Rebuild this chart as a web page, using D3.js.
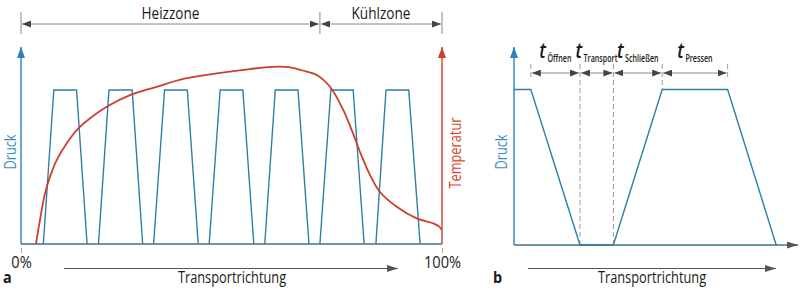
<!DOCTYPE html>
<html>
<head>
<meta charset="utf-8">
<script src="https://cdn.jsdelivr.net/npm/d3@7"></script>
<style>
  body { margin: 0; background: #fff; }
  svg text { font-family: "Open Sans", sans-serif; }
</style>
</head>
<body>
<div id="chart"></div>
<script>
// panel a: pressure pulses, x in % of the transport path, [rise start, top start, top end, fall end]
var pulsesA = [
  [5.3, 7.8, 13.2, 15.7],
  [18.4, 20.9, 26.4, 28.9],
  [31.5, 34.1, 39.5, 42.1],
  [44.7, 47.3, 52.7, 55.3],
  [57.9, 60.4, 65.8, 68.4],
  [71.0, 73.6, 78.9, 81.5],
  [84.3, 86.7, 92.1, 94.8]
];
// panel a: temperature curve [x %, temperature (relative)]
var tempA = [
  [3.56, 0], [4.51, 12.2], [5.7, 25.7], [6.89, 34.2], [8.48, 42.6], [10.86, 51.1],
  [13.61, 58.7], [16.39, 63.8], [20.36, 69.7], [25.89, 75.6], [32.23, 79.8],
  [38.55, 83.8], [46.48, 86.6], [54.39, 88.8], [59.5, 89.9], [63.5, 89.8],
  [67.86, 87.5], [70.24, 85.8], [73.4, 79.8], [76.56, 68.0], [78.93, 55.8],
  [80.52, 46.7], [82.9, 35.0], [85.27, 26.4], [89.24, 18.9], [93.99, 13.0],
  [97.93, 10.5], [99.36, 8.8], [99.93, 7.1]
];
var zoneBounds = [0, 71, 100];
var zoneNames = ["Heizzone", "Kühlzone"];
var ticksA = [0, 100];

// panel b: one pressing cycle, [time, pressure level]
var cycleB = [[0, 1], [6.1, 1], [23.9, 0], [36, 0], [53.7, 1], [77.4, 1], [95, 0]];
var phaseBounds = [6.1, 23.9, 36, 53.7, 77.4];
var phaseNames = ["Öffnen", "Transport", "Schließen", "Pressen"];

var W = 800, H = 290;
var blue = "#2a80c0", teal = "#2f7fa6", red = "#cc3f2c", grey = "#8a8a8a", dark = "#444";

var svg = d3.select("#chart").append("svg").attr("width", W).attr("height", H);
var defs = svg.append("defs");

function marker(id, color, len, half) {
  defs.append("marker")
    .attr("id", id)
    .attr("markerUnits", "userSpaceOnUse")
    .attr("viewBox", "0 " + (-half) + " " + len + " " + (2 * half))
    .attr("refX", len).attr("refY", 0)
    .attr("markerWidth", len).attr("markerHeight", 2 * half)
    .attr("orient", "auto-start-reverse")
    .append("path")
    .attr("d", "M0," + (-half) + "L" + len + ",0L0," + half + "Z")
    .attr("fill", color);
}
marker("arrBlue", blue, 11, 4);
marker("arrRed", red, 11, 4);
marker("arrDim", dark, 9, 3.5);
marker("arrDark", "#555", 11, 3.5);

// condensed text helper
function label(g, s, x, y, o) {
  o = o || {};
  var t = "translate(" + x + "," + y + ")" + (o.rotate ? " rotate(-90)" : "") + " scale(" + (o.sx || 0.8) + ",1)";
  return g.append("text")
    .attr("transform", t)
    .attr("text-anchor", o.anchor || "middle")
    .attr("font-size", o.size || 16)
    .attr("font-weight", o.weight || 400)
    .attr("fill", o.color || "#1a1a1a")
    .text(s);
}

// ---------------- panel a ----------------
var xa = d3.scaleLinear().domain([0, 100]).range([21, 442]);
var ya = d3.scaleLinear().domain([0, 1]).range([244, 90]);
var yt = d3.scaleLinear().domain([0, 100]).range([244, 47]);

var ga = svg.append("g");

// zone dimension lines
ga.selectAll(".zoneTick").data(zoneBounds).enter().append("line")
  .attr("x1", function(d) { return xa(d); }).attr("x2", function(d) { return xa(d); })
  .attr("y1", 12).attr("y2", 34)
  .attr("stroke", grey).attr("stroke-width", 1);
ga.selectAll(".zoneDim").data(zoneNames).enter().append("line")
  .attr("x1", function(d, i) { return xa(zoneBounds[i]) + 1; })
  .attr("x2", function(d, i) { return xa(zoneBounds[i + 1]) - 1; })
  .attr("y1", 24).attr("y2", 24)
  .attr("stroke", grey).attr("stroke-width", 1)
  .attr("marker-start", "url(#arrDim)").attr("marker-end", "url(#arrDim)");
zoneNames.forEach(function(n, i) {
  label(ga, n, (xa(zoneBounds[i]) + xa(zoneBounds[i + 1])) / 2, 19, { size: 17, sx: 0.8 });
});

// pressure pulses
var lineA = d3.line().x(function(d) { return xa(d[0]); }).y(function(d) { return ya(d[1]); });
pulsesA.forEach(function(p) {
  ga.append("path")
    .attr("d", lineA([[p[0], 0], [p[1], 1], [p[2], 1], [p[3], 0]]))
    .attr("fill", "none").attr("stroke", teal).attr("stroke-width", 1.4);
});

// baseline
ga.append("line")
  .attr("x1", xa(0)).attr("x2", xa(100)).attr("y1", ya(0)).attr("y2", ya(0))
  .attr("stroke", "#3d7290").attr("stroke-width", 1.4);

// temperature
ga.append("path")
  .datum(tempA)
  .attr("d", d3.line().curve(d3.curveCatmullRom.alpha(0.5))
    .x(function(d) { return xa(d[0]); }).y(function(d) { return yt(d[1]); }))
  .attr("fill", "none").attr("stroke", red).attr("stroke-width", 1.8);

// vertical axes
ga.append("line")
  .attr("x1", xa(0)).attr("x2", xa(0)).attr("y1", ya(0)).attr("y2", yt(100))
  .attr("stroke", blue).attr("stroke-width", 1.4).attr("marker-end", "url(#arrBlue)");
ga.append("line")
  .attr("x1", xa(100)).attr("x2", xa(100)).attr("y1", ya(0)).attr("y2", yt(100))
  .attr("stroke", red).attr("stroke-width", 1.4).attr("marker-end", "url(#arrRed)");

// 0% / 100% ticks
var axA = ga.append("g").attr("transform", "translate(0,248)")
  .call(d3.axisBottom(xa).tickValues(ticksA).tickSize(5).tickPadding(4)
    .tickFormat(function(d) { return d + "%"; }));
axA.select(".domain").remove();
axA.selectAll(".tick line").attr("stroke", "#aaa");
axA.selectAll(".tick text")
  .attr("font-size", 17).attr("fill", "#1a1a1a").attr("dy", null).attr("y", 20)
  .attr("transform", "scale(0.86,1)")
  .attr("font-family", "Open Sans, sans-serif");

label(ga, "Druck", 16, 152, { rotate: true, color: "#3b8cc6" });
label(ga, "Temperatur", 461, 153, { rotate: true, color: "#d4482f" });

ga.append("line")
  .attr("x1", 64).attr("x2", 398).attr("y1", 268.5).attr("y2", 268.5)
  .attr("stroke", "#555").attr("stroke-width", 1)
  .attr("marker-end", "url(#arrDark)");
label(ga, "Transportrichtung", 232, 283, { size: 16 });
label(ga, "a", 3, 283, { size: 16, weight: 700, anchor: "start", sx: 0.9 });

// ---------------- panel b ----------------
var xb = d3.scaleLinear().domain([0, 100]).range([514, 790]);
var yb = d3.scaleLinear().domain([0, 1]).range([245, 89.5]);
var gb = svg.append("g");

// long dashed lines (transport window)
gb.selectAll(".dashLong").data([phaseBounds[1], phaseBounds[2]]).enter().append("line")
  .attr("x1", function(d) { return xb(d); }).attr("x2", function(d) { return xb(d); })
  .attr("y1", 64).attr("y2", yb(0))
  .attr("stroke", "#9a9a9a").attr("stroke-width", 1).attr("stroke-dasharray", "5,3");
// short dashed ticks
gb.selectAll(".dashShort").data([phaseBounds[0], phaseBounds[3], phaseBounds[4]]).enter().append("line")
  .attr("x1", function(d) { return xb(d); }).attr("x2", function(d) { return xb(d); })
  .attr("y1", 64).attr("y2", function(d, i) { return i === 1 ? yb(1) : 80; })
  .attr("stroke", "#9a9a9a").attr("stroke-width", 1).attr("stroke-dasharray", "5,3");

// phase dimension arrows and labels  (t + condensed subscript, centred on the interval)
phaseNames.forEach(function(n, i) {
  var a = xb(phaseBounds[i]), b = xb(phaseBounds[i + 1]);
  gb.append("line")
    .attr("x1", a + 1).attr("x2", b - 1).attr("y1", 73).attr("y2", 73)
    .attr("stroke", grey).attr("stroke-width", 1)
    .attr("marker-start", "url(#arrDim)").attr("marker-end", "url(#arrDim)");
  var lg = gb.append("g");
  lg.append("text")
    .attr("transform", "translate(0,58) scale(0.85,1)")
    .attr("text-anchor", "end")
    .attr("font-size", 21).attr("font-style", "italic").attr("font-weight", 600)
    .attr("fill", "#1a1a1a").text("t");
  lg.append("text")
    .attr("transform", "translate(1.5,62) scale(0.68,1)")
    .attr("text-anchor", "start")
    .attr("font-size", 10.5).attr("font-weight", 600)
    .attr("fill", "#1a1a1a").text(n);
  var bb = lg.node().getBBox();
  lg.attr("transform", "translate(" + ((a + b) / 2 - (bb.x + bb.width / 2)) + ",0)");
});

// pressure cycle
gb.append("path")
  .datum(cycleB)
  .attr("d", d3.line().x(function(d) { return xb(d[0]); }).y(function(d) { return yb(d[1]); }))
  .attr("fill", "none").attr("stroke", teal).attr("stroke-width", 1.4);

// axes
gb.append("line")
  .attr("x1", xb(0)).attr("x2", 798).attr("y1", yb(0)).attr("y2", yb(0))
  .attr("stroke", "#3d7290").attr("stroke-width", 1.4).attr("marker-end", "url(#arrDark)");
gb.append("line")
  .attr("x1", xb(0)).attr("x2", xb(0)).attr("y1", yb(0)).attr("y2", 47)
  .attr("stroke", blue).attr("stroke-width", 1.4).attr("marker-end", "url(#arrBlue)");

label(gb, "Druck", 507, 152, { rotate: true, color: "#3b8cc6" });

gb.append("line")
  .attr("x1", 528).attr("x2", 776).attr("y1", 268.5).attr("y2", 268.5)
  .attr("stroke", "#555").attr("stroke-width", 1)
  .attr("marker-end", "url(#arrDark)");
label(gb, "Transportrichtung", 652, 283, { size: 16 });
label(gb, "b", 493, 283, { size: 16, weight: 700, anchor: "start", sx: 0.9 });
</script>
</body>
</html>
